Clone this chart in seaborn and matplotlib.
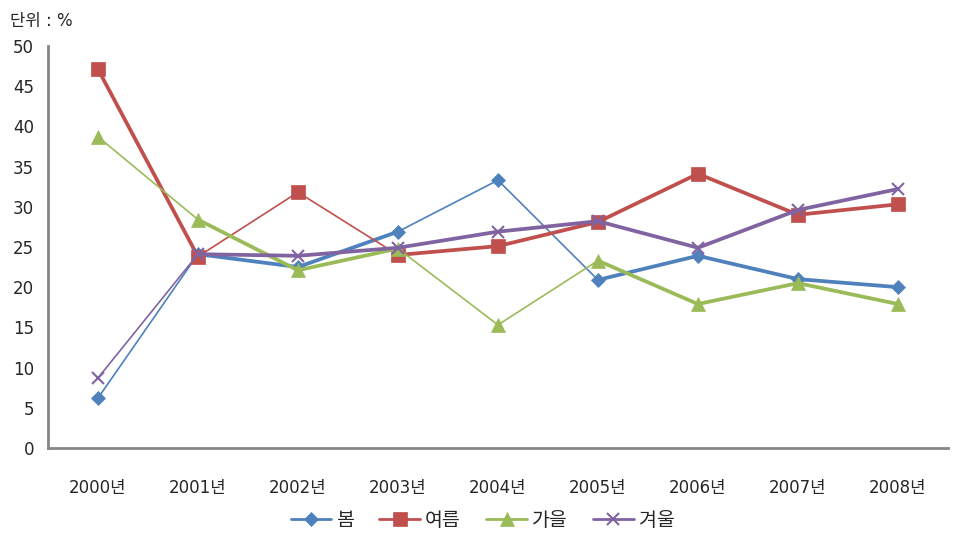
import numpy as np
import pandas as pd
import matplotlib
matplotlib.use('Agg')
import matplotlib.pyplot as plt
from matplotlib.lines import Line2D
import seaborn as sns

# Data
years = ['2000년', '2001년', '2002년', '2003년', '2004년', '2005년', '2006년', '2007년', '2008년']
spring = [6.2, 24.1, 22.5, 26.9, 33.3, 20.9, 23.9, 21.0, 20.0]
summer = [47.1, 23.8, 31.8, 24.0, 25.1, 28.1, 34.1, 29.0, 30.3]
autumn = [38.7, 28.4, 22.1, 24.8, 15.3, 23.3, 17.9, 20.5, 17.9]
winter = [8.7, 24.1, 23.9, 24.9, 26.9, 28.2, 24.9, 29.6, 32.2]
series_names = ['봄', '여름', '가을', '겨울']
y_ticks = [0, 5, 10, 15, 20, 25, 30, 35, 40, 45, 50]

# styling
colors = ['#4F81BD', '#C0504D', '#9BBB59', '#8064A2']
markers = ['D', 's', '^', 'x']
msizes = [7, 10, 10, 9]
# segments drawn thick (index = start year of the segment)
thick_segments = [
    [1, 2, 5, 6, 7],
    [0, 3, 4, 5, 6, 7],
    [1, 2, 5, 6, 7],
    [1, 2, 3, 4, 5, 6, 7],
]

sns.set_style('white')
plt.rcParams['font.family'] = ['DejaVu Sans', 'Noto Sans CJK KR']

fig = plt.figure(figsize=(9.65, 5.45), dpi=100)
ax = fig.add_axes([0.0497, 0.178, 0.9326, 0.7378])

x_pos = np.arange(len(years))
all_values = [spring, summer, autumn, winter]

for i, vals in enumerate(all_values):
    df = pd.DataFrame({'x': x_pos, 'y': vals})
    sns.lineplot(data=df, x='x', y='y', ax=ax, color=colors[i], lw=1.2,
                 sort=False, zorder=2 + i)
    for s in thick_segments[i]:
        sns.lineplot(data=df.iloc[s:s + 2], x='x', y='y', ax=ax, color=colors[i],
                     lw=2.7, sort=False, zorder=2 + i)
    ax.plot(df['x'], df['y'], ls='none', marker=markers[i], ms=msizes[i],
            color=colors[i], mew=1.5 if markers[i] == 'x' else 0.5,
            mec=colors[i], zorder=2.5 + i)

ax.set_xlim(-0.5, len(years) - 0.5)
ax.set_ylim(0, 50)
ax.set_yticks(y_ticks)
ax.set_yticklabels([str(v) for v in y_ticks], fontsize=12)
ax.set_xticks(np.arange(-0.5, len(years), 1.0))
ax.set_xticklabels([])
ax.set_xticks(x_pos, minor=True)
ax.set_xticklabels(years, minor=True, fontsize=12)
ax.tick_params(axis='x', which='minor', length=0, pad=22)
ax.tick_params(axis='x', which='major', length=6, width=2, color='#868686', direction='out')
ax.tick_params(axis='y', length=6, width=2, color='#868686', direction='out', pad=4)
ax.set_xlabel('')
ax.set_ylabel('')

for side in ['top', 'right']:
    ax.spines[side].set_visible(False)
for side in ['left', 'bottom']:
    ax.spines[side].set_color('#868686')
    ax.spines[side].set_linewidth(2)

fig.text(0.01, 0.978, '단위 : %', fontsize=12, va='top', ha='left')

handles = [Line2D([0], [0], color=colors[i], lw=2, marker=markers[i], ms=msizes[i],
                  mew=1.5 if markers[i] == 'x' else 0.5, mec=colors[i])
           for i in range(4)]
fig.legend(handles, series_names, loc='center', bbox_to_anchor=(0.5, 0.045), ncol=4,
           frameon=False, fontsize=14, handlelength=2.1, columnspacing=1.3, handletextpad=0.25)

fig.savefig('out.png', dpi=100)
